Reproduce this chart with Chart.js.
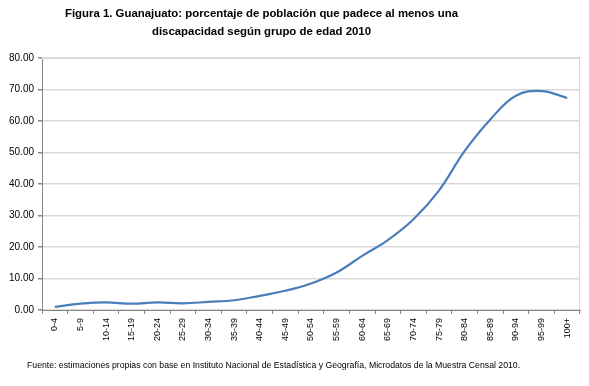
<!DOCTYPE html>
<html lang="es">
<head>
  <meta charset="UTF-8" />
  <title>Guanajuato: discapacidad por grupo de edad 2010</title>
  <style>
    html, body { margin: 0; padding: 0; background: #ffffff; }
    #wrap { position: relative; width: 589px; height: 386px; }
    #titulo {
      position: absolute;
      left: 0;
      top: 5px;
      width: 523px;
      text-align: center;
      font-family: "Liberation Sans", Arial, sans-serif;
      font-weight: bold;
      font-size: 11.4px;
      line-height: 17.5px;
      color: #000;
    }
    #nota {
      position: absolute;
      left: 27px;
      top: 360px;
      font-family: "Liberation Sans", Arial, sans-serif;
      font-size: 8.7px;
      color: #000;
      white-space: nowrap;
    }
  </style>
</head>
<body>
  <div id="wrap">
    <canvas id="grafica" width="589" height="386"></canvas>
    <div id="titulo"></div>
    <div id="nota">Fuente: estimaciones propias con base en Instituto Nacional de Estadística y Geografía, Microdatos de la Muestra Censal 2010.</div>
  </div>

  <script src="https://cdn.jsdelivr.net/npm/chart.js"></script>
  <script>
    // datos
    const gruposEdad = ["0-4", "5-9", "10-14", "15-19", "20-24", "25-29", "30-34", "35-39",
      "40-44", "45-49", "50-54", "55-59", "60-64", "65-69", "70-74", "75-79",
      "80-84", "85-89", "90-94", "95-99", "100+"];
    const porcentaje = [1.0, 2.0, 2.4, 2.0, 2.4, 2.1, 2.6, 3.1, 4.5, 6.1, 8.4, 11.9,
      17.2, 22.2, 28.8, 38.0, 50.5, 60.5, 68.0, 69.5, 67.3];
    const titulo = ["Figura 1. Guanajuato: porcentaje de población que padece al menos una",
      "discapacidad según grupo de edad 2010"];

    document.getElementById('titulo').innerHTML = titulo.join('<br>');

    const fuente = { family: "'Liberation Sans', Arial, sans-serif" };

    // marco del área de trazado (borde gris claro arriba y a la derecha)
    const marco = {
      id: 'marco',
      beforeDatasetsDraw(chart) {
        const { ctx, chartArea: a } = chart;
        ctx.save();
        ctx.strokeStyle = '#d9d9d9';
        ctx.lineWidth = 1;
        ctx.beginPath();
        ctx.moveTo(a.left, a.top + 0.5);
        ctx.lineTo(a.right - 0.5, a.top + 0.5);
        ctx.lineTo(a.right - 0.5, a.bottom);
        ctx.stroke();
        ctx.restore();
      }
    };

    new Chart(document.getElementById('grafica'), {
      type: 'line',
      data: {
        labels: gruposEdad,
        datasets: [{
          data: porcentaje,
          borderColor: '#4a7ebb',
          borderWidth: 2.2,
          pointRadius: 0,
          tension: 0.4,
          fill: false
        }]
      },
      plugins: [marco],
      options: {
        responsive: false,
        animation: false,
        layout: { padding: { left: 0, right: 9, top: 58, bottom: 35 } },
        plugins: {
          legend: { display: false },
          tooltip: { enabled: false },
          title: { display: false }
        },
        scales: {
          x: {
            offset: true,
            grid: {
              offset: true,
              drawOnChartArea: false,
              tickLength: 4,
              color: '#868686'
            },
            border: { color: '#868686' },
            ticks: {
              color: '#000',
              font: { ...fuente, size: 9 },
              minRotation: 90,
              maxRotation: 90,
              autoSkip: false,
              padding: 4
            },
            afterFit(s) { s.height = 41; }
          },
          y: {
            min: 0,
            max: 80,
            grid: {
              color: '#d9d9d9',
              lineWidth: 1.5,
              tickLength: 4,
              tickColor: '#868686'
            },
            border: { color: '#868686' },
            ticks: {
              stepSize: 10,
              color: '#000',
              font: { ...fuente, size: 10 },
              padding: 4,
              callback: v => Number(v).toFixed(2)
            },
            afterFit(s) { s.width = 42; }
          }
        }
      }
    });
  </script>
</body>
</html>
